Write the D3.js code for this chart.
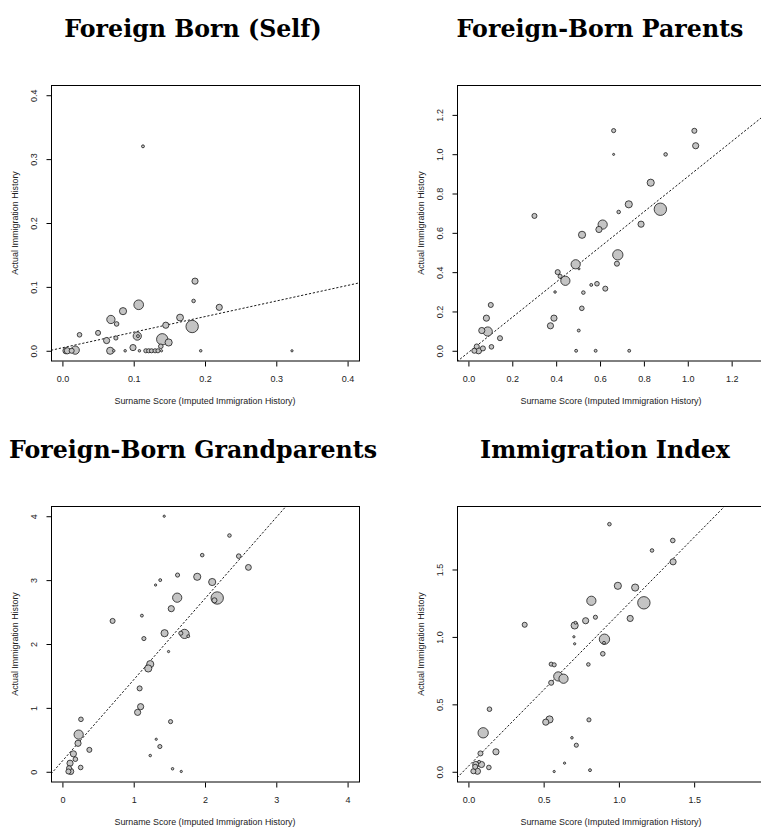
<!DOCTYPE html>
<html>
<head>
<meta charset="utf-8">
<script src="https://cdn.jsdelivr.net/npm/d3@7"></script>
<style>
  body { margin: 0; background: #fff; }
  svg { display: block; }
</style>
</head>
<body>
<div id="chart"></div>
<script>
// ---- data (x = surname score, y = actual, w = group weight)
var selfX = [0.113, 0.107, 0.085, 0.068, 0.076, 0.050, 0.024, 0.062, 0.075, 0.105, 0.106, 0.145, 0.165, 0.140, 0.149, 0.138, 0.099, 0.108, 0.088, 0.067, 0.072, 0.117, 0.121, 0.125, 0.130, 0.134, 0.139, 0.005, 0.007, 0.018, 0.013, 0.182, 0.186, 0.184, 0.220, 0.194, 0.322];
var selfY = [0.320, 0.072, 0.062, 0.049, 0.042, 0.028, 0.025, 0.016, 0.020, 0.023, 0.023, 0.040, 0.052, 0.018, 0.013, 0.007, 0.005, 0.000, 0.000, 0.000, 0.000, 0.000, 0.000, 0.000, 0.000, 0.000, 0.000, 0.000, 0.000, 0.001, 0.000, 0.038, 0.109, 0.078, 0.068, 0.000, 0.000];
var selfW = [2, 22, 12, 16, 5, 6, 5, 9, 4, 16, 2, 9, 11, 30, 12, 5, 9, 1.5, 1.5, 12, 1.5, 4, 4, 4, 4, 4, 1.2, 9, 9, 16, 6, 36, 9, 3, 9, 1.5, 1.2];

var parentsX = [0.301, 0.407, 0.418, 0.442, 0.395, 0.390, 0.374, 0.102, 0.082, 0.061, 0.088, 0.144, 0.105, 0.027, 0.038, 0.046, 0.066, 0.662, 0.662, 1.030, 1.036, 0.899, 0.831, 0.731, 0.685, 0.875, 0.787, 0.612, 0.595, 0.518, 0.681, 0.677, 0.489, 0.504, 0.524, 0.560, 0.586, 0.624, 0.517, 0.503, 0.491, 0.580, 0.733];
var parentsY = [0.686, 0.400, 0.379, 0.356, 0.299, 0.166, 0.127, 0.233, 0.166, 0.103, 0.098, 0.064, 0.020, 0.000, 0.022, 0.000, 0.012, 1.120, 0.999, 1.119, 1.043, 0.999, 0.855, 0.745, 0.706, 0.720, 0.644, 0.642, 0.617, 0.590, 0.488, 0.443, 0.440, 0.417, 0.296, 0.335, 0.341, 0.316, 0.216, 0.103, 0.000, 0.000, 0.000];
var parentsW = [6, 6, 4, 20, 1.5, 9, 9, 6, 9, 9, 20, 6, 5, 6, 6, 9, 6, 4, 1, 6, 9, 3, 12, 12, 3, 36, 9, 20, 9, 12, 25, 6, 20, 1, 3, 2, 5, 6, 5, 2, 2, 2, 2];

var grandX = [1.428, 1.615, 1.372, 1.307, 1.610, 1.527, 0.704, 1.115, 1.143, 1.433, 1.713, 1.661, 1.765, 1.489, 1.232, 1.204, 1.083, 1.097, 1.055, 1.517, 1.316, 1.367, 1.232, 1.545, 1.667, 0.260, 0.228, 0.219, 0.154, 0.378, 0.182, 0.107, 0.256, 0.093, 0.116, 0.084, 2.343, 1.961, 2.473, 2.609, 1.891, 2.101, 2.171, 2.133];
var grandY = [4.000, 3.079, 3.000, 2.923, 2.725, 2.553, 2.361, 2.444, 2.085, 2.169, 2.158, 2.169, 2.122, 1.882, 1.685, 1.617, 1.305, 1.019, 0.930, 0.785, 0.509, 0.395, 0.254, 0.047, 0.005, 0.821, 0.582, 0.446, 0.281, 0.343, 0.197, 0.134, 0.067, 0.056, 0.005, 0.005, 3.698, 3.391, 3.375, 3.199, 3.052, 2.970, 2.720, 2.684];
var grandW = [1.2, 4, 2, 1.2, 20, 9, 6, 2, 4, 12, 20, 4, 2, 1.2, 12, 12, 6, 9, 9, 4, 1.2, 4, 1.5, 1.5, 1.2, 5, 20, 9, 9, 6, 5, 9, 5, 6, 9, 6, 3, 3, 5, 8, 12, 12, 36, 6];

var indexX = [0.374, 0.550, 0.570, 0.597, 0.632, 0.550, 0.539, 0.514, 0.140, 0.098, 0.080, 0.183, 0.049, 0.087, 0.071, 0.060, 0.033, 0.045, 0.136, 0.570, 0.639, 0.937, 1.358, 1.220, 1.360, 0.993, 1.108, 0.817, 1.166, 1.075, 0.844, 0.779, 0.706, 0.712, 0.701, 0.706, 0.904, 0.901, 0.893, 0.797, 0.801, 0.688, 0.717, 0.808];
var indexY = [1.090, 0.798, 0.793, 0.707, 0.690, 0.660, 0.388, 0.368, 0.464, 0.289, 0.136, 0.148, 0.054, 0.054, 0.074, 0.004, 0.004, 0.037, 0.032, 0.002, 0.064, 1.836, 1.715, 1.641, 1.557, 1.379, 1.366, 1.268, 1.253, 1.137, 1.146, 1.120, 1.085, 1.105, 1.001, 0.949, 0.983, 0.956, 0.875, 0.796, 0.385, 0.252, 0.197, 0.012];
var indexW = [6, 4, 4, 20, 20, 6, 12, 9, 5, 25, 6, 9, 9, 9, 2, 9, 6, 6, 5, 1.2, 1.2, 3, 5, 3, 9, 12, 12, 20, 36, 9, 4, 9, 12, 2, 1.2, 1.2, 25, 2, 5, 3, 4, 1.5, 4, 2];

// fitted lines: [intercept, slope]
var selfFit = [0.0047, 0.244];
var parentsFit = [-0.0084, 0.894];
var grandFit = [0.169, 1.271];
var indexFit = [0.041, 1.132];

// axis limits and ticks
var selfLim = 0.4, parentsLim = 1.3, grandLim = 4, indexLim = 1.895;
var selfTicks = [0, 0.1, 0.2, 0.3, 0.4];
var parentsTicks = [0, 0.2, 0.4, 0.6, 0.8, 1.0, 1.2];
var grandTicks = [0, 1, 2, 3, 4];
var indexTicks = [0, 0.5, 1.0, 1.5];

var titles = ['Foreign Born (Self)', 'Foreign-Born Parents', 'Foreign-Born Grandparents', 'Immigration Index'];
var xLabel = 'Surname Score (Imputed Immigration History)';
var yLabel = 'Actual Immigration History';

var panels = [
  { title: titles[0], x: selfX, y: selfY, w: selfW, fit: selfFit, lim: selfLim, ticks: selfTicks, fmt: d3.format('.1f'),
    left: 51, top: 85, titleX: 193 },
  { title: titles[1], x: parentsX, y: parentsY, w: parentsW, fit: parentsFit, lim: parentsLim, ticks: parentsTicks, fmt: d3.format('.1f'),
    left: 457, top: 85, titleX: 600 },
  { title: titles[2], x: grandX, y: grandY, w: grandW, fit: grandFit, lim: grandLim, ticks: grandTicks, fmt: d3.format('d'),
    left: 51, top: 506, titleX: 193 },
  { title: titles[3], x: indexX, y: indexY, w: indexW, fit: indexFit, lim: indexLim, ticks: indexTicks, fmt: d3.format('.1f'),
    left: 457, top: 506, titleX: 605 }
];

var W = 761, H = 827;
var boxW = 308, boxH = 276;

var svg = d3.select('#chart').append('svg')
  .attr('width', W)
  .attr('height', H);

var rScale = d3.scaleSqrt().domain([0, 36]).range([0, 6.2]);

panels.forEach(function(p, i) {
  // R-style 4% padding around [0, lim]
  var pad = p.lim * 0.04;
  var x = d3.scaleLinear().domain([-pad, p.lim + pad]).range([0, boxW]);
  var y = d3.scaleLinear().domain([-pad, p.lim + pad]).range([boxH, 0]);

  var g = svg.append('g').attr('transform', 'translate(' + p.left + ',' + p.top + ')');

  svg.append('defs').append('clipPath').attr('id', 'clip' + i)
    .append('rect').attr('width', boxW).attr('height', boxH);

  // title
  svg.append('text')
    .attr('x', p.titleX)
    .attr('y', p.top - 48)
    .attr('text-anchor', 'middle')
    .style('font-family', '"DejaVu Serif", serif')
    .style('font-weight', 'bold')
    .style('font-size', '23.7px')
    .text(p.title);

  // fitted dashed line
  var d0 = x.domain()[0], d1 = x.domain()[1];
  g.append('line')
    .attr('clip-path', 'url(#clip' + i + ')')
    .attr('x1', x(d0)).attr('y1', y(p.fit[0] + p.fit[1] * d0))
    .attr('x2', x(d1)).attr('y2', y(p.fit[0] + p.fit[1] * d1))
    .attr('stroke', '#000')
    .attr('stroke-width', 0.9)
    .attr('stroke-dasharray', '2.2,1.8');

  // points, large first so small ones sit on top
  var pts = p.x.map(function(v, k) { return { x: v, y: p.y[k], w: p.w[k] }; });
  pts.sort(function(a, b) { return b.w - a.w; });
  g.selectAll('circle.pt').data(pts).enter().append('circle')
    .attr('class', 'pt')
    .attr('cx', function(d) { return x(d.x); })
    .attr('cy', function(d) { return y(d.y); })
    .attr('r', function(d) { return rScale(d.w); })
    .attr('fill', '#c4c4c4')
    .attr('stroke', '#1a1a1a')
    .attr('stroke-width', 0.8);

  // frame
  g.append('rect')
    .attr('x', 0.5).attr('y', 0.5)
    .attr('width', boxW).attr('height', boxH - 0.5)
    .attr('fill', 'none')
    .attr('stroke', '#000')
    .attr('stroke-width', 1);

  // x axis
  var xAx = g.append('g')
    .attr('transform', 'translate(0,' + (boxH + 0.5) + ')')
    .call(d3.axisBottom(x).tickValues(p.ticks).tickFormat(p.fmt).tickSize(5).tickPadding(9));
  // y axis
  var yAx = g.append('g')
    .attr('transform', 'translate(0.5,0)')
    .call(d3.axisLeft(y).tickValues(p.ticks).tickFormat(p.fmt).tickSize(5));

  [xAx, yAx].forEach(function(a) {
    a.select('.domain').remove();
    a.selectAll('.tick line').attr('stroke', '#000');
    a.selectAll('text')
      .attr('fill', '#222')
      .style('font-family', '"Liberation Sans", Arial, sans-serif')
      .style('font-size', '9px');
  });

  // rotate y tick labels parallel to the axis, like R
  yAx.selectAll('.tick text')
    .attr('x', null).attr('dy', null)
    .attr('text-anchor', 'middle')
    .attr('transform', 'translate(-14.5,0) rotate(-90)');

  // axis titles
  g.append('text')
    .attr('x', boxW / 2)
    .attr('y', boxH + 42.5)
    .attr('text-anchor', 'middle')
    .attr('fill', '#222')
    .style('font-family', '"Liberation Sans", Arial, sans-serif')
    .style('font-size', '8.9px')
    .text(xLabel);

  g.append('text')
    .attr('transform', 'translate(-33,' + (boxH / 2) + ') rotate(-90)')
    .attr('text-anchor', 'middle')
    .attr('fill', '#222')
    .style('font-family', '"Liberation Sans", Arial, sans-serif')
    .style('font-size', '8.9px')
    .text(yLabel);
});
</script>
</body>
</html>
